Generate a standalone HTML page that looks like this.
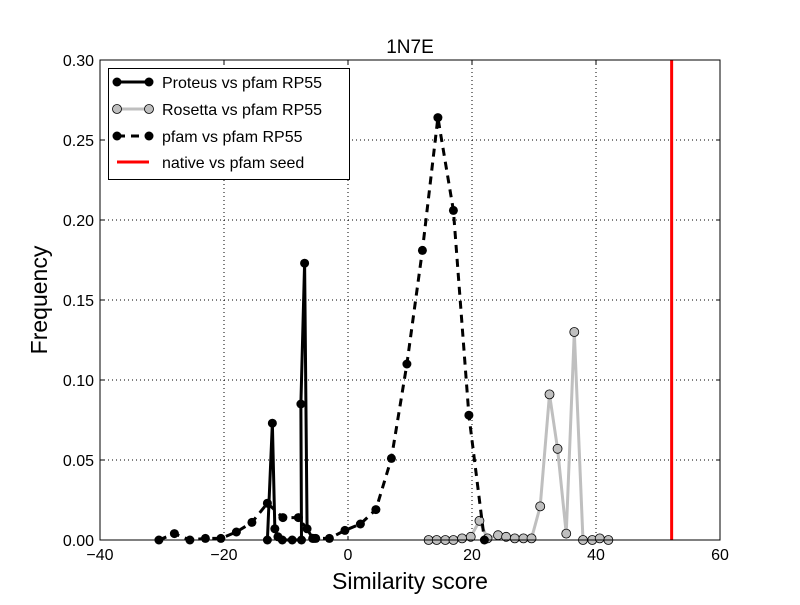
<!DOCTYPE html>
<html><head><meta charset="utf-8"><style>
body{margin:0;background:#fff;}
svg text{font-family:"Liberation Sans",sans-serif;}
</style></head><body>
<svg id="chart" width="800" height="600" xmlns="http://www.w3.org/2000/svg"></svg>
<script>
const proteusX=[-13,-12.2,-11.8,-11.3,-10.6,-9,-7.5,-7.6,-7.0,-6.6,-5.7,-5.2];
const proteusY=[0,0.073,0.007,0.002,0,0,0,0.085,0.173,0.007,0.001,0.001];
const rosettaX=[13,14.3,15.7,17,18.4,19.8,21.2,22.5,24.2,25.5,26.9,28.3,29.6,31,32.5,33.8,35.2,36.5,37.9,39.4,40.6,42];
const rosettaY=[0,0,0,0,0.001,0.002,0.012,0.001,0.003,0.002,0.001,0.001,0.001,0.021,0.091,0.057,0.004,0.130,0,0,0.001,0];
const pfamX=[-30.5,-28,-25.5,-23,-20.5,-18,-15.5,-13,-10.5,-8,-5.5,-3,-0.5,2,4.5,7,9.5,12,14.5,17,19.5,22];
const pfamY=[0,0.004,0,0.001,0.001,0.005,0.011,0.023,0.014,0.014,0.001,0.001,0.006,0.010,0.019,0.051,0.110,0.181,0.264,0.206,0.078,0];
const nativeX=[52.2];
const xTicks=[-40,-20,0,20,40,60];
const yTicks=[0,0.05,0.10,0.15,0.20,0.25,0.30];
const yLabels=["0.00","0.05","0.10","0.15","0.20","0.25","0.30"];
const L=100,R=720,T=60,B=540;
const sx=v=>L+(v+40)/100*(R-L);
const sy=v=>B-v/0.30*(B-T);
const svg=document.getElementById('chart');
const NS='http://www.w3.org/2000/svg';
function mk(tag,attrs,parent){const e=document.createElementNS(NS,tag);for(const k in attrs)e.setAttribute(k,attrs[k]);(parent||svg).appendChild(e);return e;}
xTicks.forEach(t=>{if(t>-40&&t<60){const g=mk('line',{x1:sx(t),x2:sx(t),y1:T,y2:B,stroke:'#000','stroke-dasharray':'1,3','stroke-width':1});

}});
yTicks.forEach(t=>{if(t>0&&t<0.3){const g=mk('line',{x1:L,x2:R,y1:sy(t),y2:sy(t),stroke:'#000','stroke-dasharray':'1,3','stroke-width':1});

}});
xTicks.forEach(t=>{mk('line',{x1:sx(t),x2:sx(t),y1:B,y2:B-4,stroke:'#000'});mk('line',{x1:sx(t),x2:sx(t),y1:T,y2:T+4,stroke:'#000'});
const tx=mk('text',{x:sx(t),y:B+20,'text-anchor':'middle','font-size':16});tx.textContent=String(t).replace('-','\u2212');

});
yTicks.forEach((t,i)=>{mk('line',{x1:L,x2:L+4,y1:sy(t),y2:sy(t),stroke:'#000'});mk('line',{x1:R,x2:R-4,y1:sy(t),y2:sy(t),stroke:'#000'});
const tx=mk('text',{x:L-6,y:sy(t)+6,'text-anchor':'end','font-size':16});tx.textContent=yLabels[i];

});
function series(xs,ys,color,mfill,dash,w,name){
  const p=mk('polyline',{points:xs.map((x,i)=>sx(x)+','+sy(ys[i])).join(' '),fill:'none',stroke:color,'stroke-width':w,'stroke-dasharray':dash||'none','stroke-linejoin':'round'});
  
  
  xs.forEach((x,i)=>{const c=mk('circle',{cx:sx(x),cy:sy(ys[i]),r:4.5,fill:mfill,stroke:'#000','stroke-width':mfill==='#000'?0:0.8});
  
  });
}
series(rosettaX,rosettaY,'#bfbfbf','#bfbfbf',null,3,'rosetta');
series(pfamX,pfamY,'#000','#000','8,6',3,'pfam');
series(proteusX,proteusY,'#000','#000',null,3,'proteus');
nativeX.forEach(v=>{const n=mk('line',{x1:sx(v),x2:sx(v),y1:T,y2:B,stroke:'#ff0000','stroke-width':3});

});
const frame=mk('rect',{x:L,y:T,width:R-L,height:B-T,fill:'none',stroke:'#000','stroke-width':1});


</script>
<svg style="position:absolute;left:0;top:0" width="800" height="600" xmlns="http://www.w3.org/2000/svg">
<text x="410" y="53" text-anchor="middle" font-size="19">1N7E</text>
<text x="410" y="589" text-anchor="middle" font-size="23">Similarity score</text>
<text x="47" y="300" text-anchor="middle" font-size="23" transform="rotate(-90 47 300)">Frequency</text>
<g>
<rect x="108.5" y="68.5" width="241" height="111" fill="#fff" stroke="#000"/>
<g><line x1="117" x2="149" y1="82" y2="82" stroke="#000" stroke-width="3"/><circle cx="117" cy="82" r="4.5"/><circle cx="149" cy="82" r="4.5"/><text x="162" y="88" font-size="16">Proteus vs pfam RP55</text></g>
<g><line x1="117" x2="149" y1="109" y2="109" stroke="#bfbfbf" stroke-width="3"/><circle cx="117" cy="109" r="4.5" fill="#bfbfbf" stroke="#000" stroke-width="0.8"/><circle cx="149" cy="109" r="4.5" fill="#bfbfbf" stroke="#000" stroke-width="0.8"/><text x="162" y="115" font-size="16">Rosetta vs pfam RP55</text></g>
<g><line x1="117" x2="149" y1="136" y2="136" stroke="#000" stroke-width="3" stroke-dasharray="8,6"/><circle cx="117" cy="136" r="4.5"/><circle cx="149" cy="136" r="4.5"/><text x="162" y="142" font-size="16">pfam vs pfam RP55</text></g>
<g><line x1="117" x2="149" y1="162" y2="162" stroke="#ff0000" stroke-width="3"/><text x="162" y="168" font-size="16">native vs pfam seed</text></g>
</g>
</svg>
</body></html>
